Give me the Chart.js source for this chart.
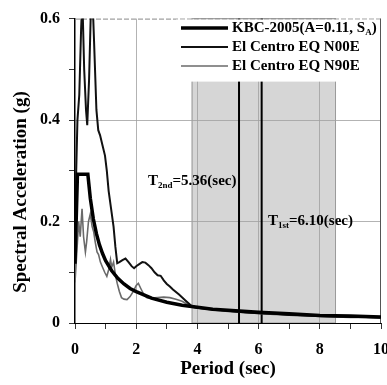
<!DOCTYPE html>
<html>
<head>
<meta charset="utf-8">
<script src="https://cdn.jsdelivr.net/npm/chart.js@4.4.0/dist/chart.umd.min.js"></script>
<style>
body { margin: 0; background: #fff; }
</style>
</head>
<body>
<canvas id="myChart" width="387" height="385"></canvas>
<script>
// KBC-2005 design spectrum (A=0.11, S_A)
var kbcT  = [0, 0.08, 0.42, 0.5, 0.6, 0.7, 0.8, 0.9, 1.0, 1.2, 1.4, 1.6, 1.8, 2.0, 2.5, 3.0, 3.5, 4.0, 4.5, 5.0, 6.0, 7.0, 8.0, 9.0, 10.0];
var kbcSa = [0.117, 0.293, 0.293, 0.246, 0.205, 0.176, 0.154, 0.137, 0.123, 0.103, 0.088, 0.077, 0.068, 0.062, 0.049, 0.041, 0.035, 0.031, 0.027, 0.025, 0.021, 0.018, 0.015, 0.014, 0.012];

// El Centro N00E response spectrum
var n00eT  = [0, 0.04, 0.08, 0.14, 0.2, 0.24, 0.3, 0.36, 0.4, 0.46, 0.52, 0.56, 0.62, 0.7, 0.76, 0.82, 0.9, 0.98, 1.04, 1.1, 1.18, 1.26, 1.32, 1.38, 1.45, 1.55, 1.65, 1.75, 1.85, 1.93, 2.0, 2.1, 2.2, 2.3, 2.4, 2.5, 2.6, 2.7, 2.8, 2.9, 3.0, 3.1, 3.2, 3.4, 3.6, 3.8, 4.0, 4.5, 5.0, 5.5, 6.0, 6.5, 7.0, 7.5, 8.0, 8.5, 9.0, 9.5, 10.0];
var n00eSa = [0.12, 0.30, 0.40, 0.45, 0.58, 0.64, 0.50, 0.42, 0.39, 0.48, 0.62, 0.66, 0.56, 0.42, 0.38, 0.37, 0.35, 0.33, 0.30, 0.26, 0.225, 0.19, 0.15, 0.118, 0.12, 0.124, 0.127, 0.12, 0.112, 0.108, 0.112, 0.116, 0.12, 0.119, 0.114, 0.108, 0.10, 0.094, 0.093, 0.084, 0.077, 0.072, 0.066, 0.056, 0.045, 0.034, 0.030, 0.027, 0.024, 0.021, 0.019, 0.018, 0.016, 0.015, 0.014, 0.013, 0.012, 0.012, 0.011];

// El Centro N90E response spectrum
var n90eT  = [0, 0.04, 0.08, 0.12, 0.17, 0.23, 0.28, 0.34, 0.38, 0.44, 0.5, 0.56, 0.61, 0.66, 0.72, 0.77, 0.83, 0.9, 0.97, 1.04, 1.1, 1.16, 1.2, 1.26, 1.32, 1.38, 1.45, 1.52, 1.6, 1.7, 1.8, 1.9, 2.0, 2.07, 2.15, 2.25, 2.35, 2.5, 2.7, 2.9, 3.1, 3.3, 3.5, 3.7, 3.9, 4.2, 4.6, 5.0, 5.5, 6.0, 6.5, 7.0, 7.5, 8.0, 8.5, 9.0, 9.5, 10.0];
var n90eSa = [0.08, 0.12, 0.16, 0.20, 0.17, 0.225, 0.17, 0.14, 0.16, 0.20, 0.215, 0.19, 0.18, 0.16, 0.14, 0.135, 0.12, 0.11, 0.10, 0.092, 0.105, 0.125, 0.11, 0.12, 0.095, 0.078, 0.062, 0.05, 0.047, 0.046, 0.052, 0.062, 0.074, 0.078, 0.068, 0.056, 0.05, 0.049, 0.05, 0.051, 0.05, 0.047, 0.043, 0.036, 0.03, 0.028, 0.025, 0.023, 0.021, 0.019, 0.017, 0.016, 0.015, 0.013, 0.012, 0.011, 0.011, 0.010];

var bandRange = [3.81, 8.53];      // shaded period range (sec)
var periodLines = [5.36, 6.10];    // T2nd, T1st
var legendLabels = ['KBC-2005(A=0.11, S', 'El Centro EQ N00E', 'El Centro EQ N90E'];
var xGridAt = [2, 4, 6, 8];
var yGridAt = [0.2, 0.4];

var serif = "'Liberation Serif', 'Times New Roman', serif";

function toPts(xs, ys) {
    var out = [];
    for (var i = 0; i < xs.length; i++) out.push({x: xs[i], y: ys[i]});
    return out;
}

// text with a subscript part: [main, sub, rest]
function subText(ctx, x, y, main, sub, rest, size) {
    ctx.font = 'bold ' + size + 'px ' + serif;
    ctx.fillText(main, x, y);
    x += ctx.measureText(main).width;
    ctx.font = 'bold ' + Math.round(size * 0.62) + 'px ' + serif;
    ctx.fillText(sub, x, y + size * 0.3);
    x += ctx.measureText(sub).width;
    ctx.font = 'bold ' + size + 'px ' + serif;
    ctx.fillText(rest, x, y);
}

var extras = {
    id: 'extras',
    beforeDraw: function(chart) {
        var a = chart.chartArea, ctx = chart.ctx, xs = chart.scales.x;
        var x1 = xs.getPixelForValue(bandRange[0]), x2 = xs.getPixelForValue(bandRange[1]);
        ctx.save();
        ctx.fillStyle = '#d6d6d6';
        ctx.fillRect(x1, a.top, x2 - x1, a.bottom - a.top);
        ctx.strokeStyle = '#9a9a9a';
        ctx.lineWidth = 1;
        ctx.strokeRect(x1 + 0.5, a.top, x2 - x1 - 1, a.bottom - a.top);
        ctx.restore();
    },
    beforeDatasetsDraw: function(chart) {
        var a = chart.chartArea, ctx = chart.ctx, xs = chart.scales.x;
        ctx.save();
        ctx.strokeStyle = '#000';
        ctx.lineWidth = 2;
        periodLines.forEach(function(p) {
            var px = xs.getPixelForValue(p);
            ctx.beginPath();
            ctx.moveTo(px, a.top);
            ctx.lineTo(px, a.bottom);
            ctx.stroke();
        });
        // top and right frame
        ctx.lineWidth = 1;
        ctx.strokeStyle = '#888';
        ctx.setLineDash([5, 2]);
        ctx.beginPath();
        ctx.moveTo(a.left, a.top + 0.5);
        ctx.lineTo(a.right, a.top + 0.5);
        ctx.stroke();
        ctx.setLineDash([]);
        ctx.strokeStyle = '#555';
        ctx.beginPath();
        ctx.moveTo(a.right - 0.5, a.top);
        ctx.lineTo(a.right - 0.5, a.bottom);
        ctx.stroke();
        ctx.restore();
    },
    afterDatasetsDraw: function(chart) {
        var a = chart.chartArea, ctx = chart.ctx;
        ctx.save();

        // legend
        ctx.fillStyle = '#fff';
        ctx.fillRect(176, a.top + 1, a.right - 177, 62);
        var rows = [28, 47, 66];
        var ds = chart.data.datasets;
        for (var i = 0; i < 3; i++) {
            ctx.strokeStyle = ds[i].borderColor;
            ctx.lineWidth = ds[i].borderWidth;
            ctx.beginPath();
            ctx.moveTo(181, rows[i]);
            ctx.lineTo(228, rows[i]);
            ctx.stroke();
        }
        ctx.fillStyle = '#000';
        ctx.textBaseline = 'middle';
        ctx.textAlign = 'left';
        subText(ctx, 232, rows[0], legendLabels[0], 'A', ')', 15);
        ctx.font = 'bold 15px ' + serif;
        ctx.fillText(legendLabels[1], 232, rows[1]);
        ctx.fillText(legendLabels[2], 232, rows[2]);

        // period annotations
        subText(ctx, 148, 181, 'T', '2nd', '=5.36(sec)', 15);
        subText(ctx, 268, 221, 'T', '1st', '=6.10(sec)', 15);

        // y axis title
        ctx.translate(21, 192);
        ctx.rotate(-Math.PI / 2);
        ctx.textAlign = 'center';
        ctx.font = 'bold 19px ' + serif;
        ctx.fillText('Spectral Acceleration (g)', 0, 0);
        ctx.restore();
    }
};

var ctx = document.getElementById('myChart').getContext('2d');
var myChart = new Chart(ctx, {
    type: 'line',
    data: {
        datasets: [
            {
                label: 'KBC-2005(A=0.11, SA)',
                data: toPts(kbcT, kbcSa),
                borderColor: '#000',
                borderWidth: 3.5,
                pointRadius: 0,
                tension: 0
            },
            {
                label: 'El Centro EQ N00E',
                data: toPts(n00eT, n00eSa),
                borderColor: '#111',
                borderWidth: 2,
                pointRadius: 0,
                tension: 0
            },
            {
                label: 'El Centro EQ N90E',
                data: toPts(n90eT, n90eSa),
                borderColor: '#6a6a6a',
                borderWidth: 1.6,
                pointRadius: 0,
                tension: 0
            }
        ]
    },
    options: {
        responsive: false,
        devicePixelRatio: 1,
        animation: false,
        layout: { padding: { top: 14, right: 6, left: 0, bottom: 0 } },
        plugins: { legend: { display: false }, tooltip: { enabled: false } },
        scales: {
            x: {
                type: 'linear',
                min: 0,
                max: 10,
                afterFit: function(s) { s.height = 62; s.paddingRight = 0; s.paddingLeft = 0; },
                ticks: {
                    stepSize: 1,
                    autoSkip: false,
                    maxRotation: 0,
                    padding: 11,
                    color: '#000',
                    font: { family: serif, size: 16, weight: 'bold' },
                    callback: function(v) { return v % 2 === 0 ? String(v) : ''; }
                },
                grid: {
                    color: function(c) {
                        return c.tick && xGridAt.indexOf(c.tick.value) >= 0 ? '#a0a0a0' : 'rgba(0,0,0,0)';
                    },
                    lineWidth: 0.8,
                    tickColor: '#000',
                    tickLength: 6
                },
                border: { color: '#000', width: 1 },
                title: {
                    display: true,
                    text: 'Period (sec)',
                    color: '#000',
                    font: { family: serif, size: 19, weight: 'bold' },
                    padding: { top: 0, bottom: 5 }
                }
            },
            y: {
                min: 0,
                max: 0.6,
                afterFit: function(s) { s.width = 75; },
                ticks: {
                    stepSize: 0.1,
                    padding: 9,
                    color: '#000',
                    font: { family: serif, size: 16, weight: 'bold' },
                    callback: function(v) {
                        var k = Math.round(v * 10);
                        if (k % 2 !== 0) return '';
                        return k === 0 ? '0' : (k / 10).toFixed(1);
                    }
                },
                grid: {
                    color: function(c) {
                        if (!c.tick) return 'rgba(0,0,0,0)';
                        var v = Math.round(c.tick.value * 10) / 10;
                        return yGridAt.indexOf(v) >= 0 ? '#a0a0a0' : 'rgba(0,0,0,0)';
                    },
                    lineWidth: 0.8,
                    tickColor: '#000',
                    tickLength: 6
                },
                border: { color: '#000', width: 1.5 }
            }
        }
    },
    plugins: [extras]
});
</script>
</body>
</html>
